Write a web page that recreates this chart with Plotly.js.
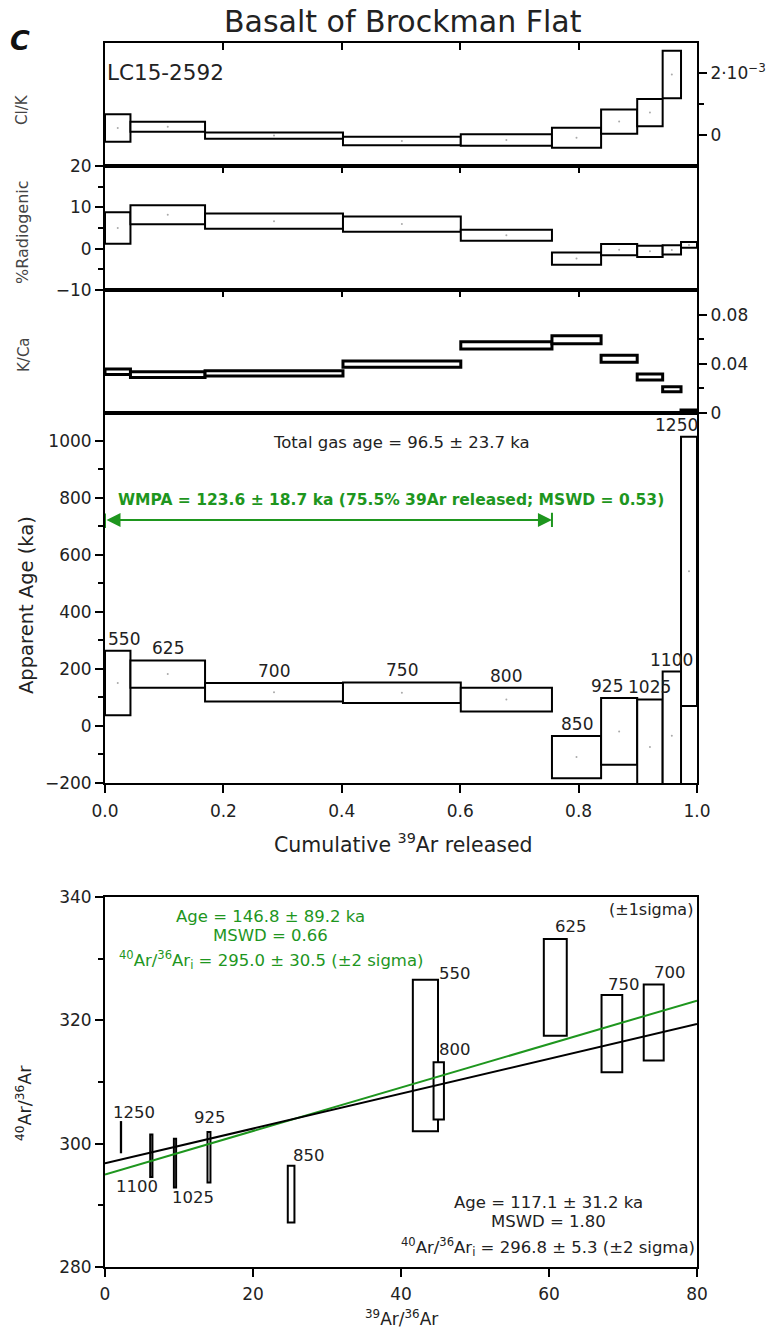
<!DOCTYPE html>
<html><head><meta charset="utf-8">
<script src="https://cdn.plot.ly/plotly-3.0.1.min.js"></script>
<style>html,body{margin:0;padding:0;background:#fff}#chart{width:770px;height:1331px}</style>
</head><body><div id="chart"></div>
<script>
// ---------------- DATA ----------------
const steps   = ['550','625','700','750','800','850','925','1025','1100','1250'];
const cumLo   = [0.000, 0.043, 0.169, 0.402, 0.601, 0.755, 0.838, 0.899, 0.942, 0.973];
const cumHi   = [0.043, 0.169, 0.402, 0.601, 0.755, 0.838, 0.899, 0.942, 0.973, 1.000];

const clkLo   = [-0.21e-3, 0.11e-3, -0.11e-3, -0.32e-3, -0.34e-3, -0.40e-3, 0.05e-3, 0.29e-3, 1.18e-3, null];
const clkHi   = [ 0.67e-3, 0.43e-3,  0.09e-3, -0.05e-3,  0.03e-3,  0.24e-3, 0.82e-3, 1.16e-3, 2.70e-3, null];

const radLo   = [1.2, 5.9, 4.8, 4.1, 1.9, -3.9, -1.6, -2.0, -1.4, 0.2];
const radHi   = [8.8, 10.5, 8.5, 7.8, 4.6, -0.9, 1.1, 0.7, 0.8, 1.6];

const kcaLo   = [0.0314, 0.0289, 0.0300, 0.0371, 0.0521, 0.0563, 0.0413, 0.0268, 0.0172, -0.0003];
const kcaHi   = [0.0358, 0.0336, 0.0344, 0.0423, 0.0579, 0.0628, 0.0470, 0.0317, 0.0213, 0.0025];

const ageLo   = [38, 134, 86, 81, 51, -183, -136, -240, -260, 70];
const ageHi   = [264, 230, 151, 153, 134, -35, 98, 93, 191, 1015];

const totalGasText = 'Total gas age = 96.5 ± 23.7 ka';
const wmpaText = 'WMPA = 123.6 ± 18.7 ka (75.5% 39Ar released; MSWD = 0.53)';
const wmpaStart = 0.0, wmpaEnd = 0.755;

// isochron (39Ar/36Ar vs 40Ar/36Ar)
const isoX    = [43.3, 60.85, 74.15, 68.5, 45.1, 25.15, 14.05, 9.46, 6.26, 2.16];
const isoXerr = [1.7, 1.55, 1.35, 1.4, 0.7, 0.45, 0.2, 0.15, 0.15, 0.02];
const isoY    = [314.3, 325.35, 319.65, 317.85, 308.55, 291.8, 297.8, 296.85, 298.05, 301.05];
const isoYerr = [12.3, 7.85, 6.15, 6.25, 4.65, 4.6, 4.1, 3.95, 3.45, 2.45];

const fitX      = [0, 80];
const blackFitY = [296.8, 319.4];
const greenFitY = [295.0, 323.2];

const greenLines = ['Age = 146.8 ± 89.2 ka', 'MSWD = 0.66', '<sup>40</sup>Ar/<sup>36</sup>Ar<sub>i</sub> = 295.0 ± 30.5 (±2 sigma)'];
const blackLines = ['Age = 117.1 ± 31.2 ka', 'MSWD = 1.80', '<sup>40</sup>Ar/<sup>36</sup>Ar<sub>i</sub> = 296.8 ± 5.3 (±2 sigma)'];

// ---------------- STYLE ----------------
const W = 770, H = 1331, L = 105, R = 697;
const FONT = 'DejaVu Sans, Liberation Sans, Arial, sans-serif';
const TXT = '#222';
const GREEN = '#1e961e';
const px2fx = p => (p - L) / (R - L);
const py2fy = p => 1 - p / H;
const yd = (top, bot) => [1 - bot / H, 1 - top / H];

function boxBars(lo, hi, xc, wd, xa, ya, lw) {
  const base = [], len = [];
  for (let i = 0; i < lo.length; i++) {
    if (lo[i] === null || hi[i] === null) { base.push(null); len.push(null); }
    else { base.push(lo[i]); len.push(hi[i] - lo[i]); }
  }
  return {type: 'bar', x: xc, width: wd, base: base, y: len, xaxis: xa, yaxis: ya,
    marker: {color: 'white', line: {color: 'black', width: lw}}, hoverinfo: 'skip', showlegend: false};
}
function dots(lo, hi, xc, xa, ya) {
  const y = lo.map((v, i) => (v === null ? null : (v + hi[i]) / 2));
  return {type: 'scatter', mode: 'markers', x: xc, y: y, xaxis: xa, yaxis: ya,
    marker: {size: 2, color: '#aaa'}, hoverinfo: 'skip', showlegend: false, cliponaxis: true};
}

const cumC = cumLo.map((v, i) => (v + cumHi[i]) / 2);
const cumW = cumLo.map((v, i) => cumHi[i] - v);

const traces = [
  boxBars(clkLo, clkHi, cumC, cumW, 'x', 'y', 2),
  dots(clkLo, clkHi, cumC, 'x', 'y'),
  boxBars(radLo, radHi, cumC, cumW, 'x2', 'y2', 2),
  dots(radLo, radHi, cumC, 'x2', 'y2'),
  boxBars(kcaLo, kcaHi, cumC, cumW, 'x3', 'y3', 3),
  boxBars(ageLo, ageHi, cumC, cumW, 'x4', 'y4', 2),
  dots(ageLo, ageHi, cumC, 'x4', 'y4'),
];
// WMPA end bars
traces.push({type: 'scatter', mode: 'lines', x: [wmpaStart, wmpaStart, null, wmpaEnd, wmpaEnd],
  y: [695, 745, null, 698, 748], xaxis: 'x4', yaxis: 'y4', line: {color: GREEN, width: 2},
  hoverinfo: 'skip', showlegend: false, cliponaxis: false});

// isochron
const isoLo = isoY.map((v, i) => v - isoYerr[i]);
const isoHi = isoY.map((v, i) => v + isoYerr[i]);
traces.push({type: 'scatter', mode: 'lines', x: fitX, y: greenFitY, xaxis: 'x5', yaxis: 'y5',
  line: {color: GREEN, width: 2}, hoverinfo: 'skip', showlegend: false});
traces.push({type: 'scatter', mode: 'lines', x: fitX, y: blackFitY, xaxis: 'x5', yaxis: 'y5',
  line: {color: 'black', width: 2}, hoverinfo: 'skip', showlegend: false});
traces.push(boxBars(isoLo, isoHi, isoX, isoXerr.map(e => 2 * e), 'x5', 'y5', 2));

// ---------------- AXES ----------------
const tickfont = {family: FONT, size: 17, color: TXT};
const base = {showline: true, linecolor: 'black', linewidth: 2, mirror: true, zeroline: false,
  showgrid: false, ticklen: 8, tickwidth: 2, tickcolor: 'black', tickfont: tickfont, type: 'linear', fixedrange: true};
const topX = (anchor) => Object.assign({}, base, {anchor: anchor, domain: [0, 1], range: [0, 1], side: 'top',
  ticks: 'inside', ticklen: 7, tickmode: 'array', tickvals: [0.2, 0.4, 0.6, 0.8], showticklabels: false});
const minorT = (o) => Object.assign({ticks: 'outside', ticklen: 5, tickwidth: 2, tickcolor: 'black'}, o);

const layout = {
  width: W, height: H, margin: {l: L, r: W - R, t: 0, b: 0}, paper_bgcolor: 'white', plot_bgcolor: 'white',
  barmode: 'overlay', showlegend: false, hovermode: false, font: {family: FONT, color: TXT},
  xaxis: topX('y'),
  yaxis: Object.assign({}, base, {anchor: 'x', domain: yd(43, 166), range: [-0.985e-3, 2.95e-3], side: 'right',
    ticks: 'outside', tickmode: 'array', tickvals: [0, 0.002], ticktext: ['0', '2·10<sup>−3</sup>'],
    minor: minorT({tickmode: 'array', tickvals: [0.001]})}),
  xaxis2: topX('y2'),
  yaxis2: Object.assign({}, base, {anchor: 'x2', domain: yd(166, 290), range: [-10, 20], side: 'left',
    ticks: 'outside', tickmode: 'linear', tick0: 0, dtick: 10,
    minor: minorT({tickmode: 'linear', tick0: 0, dtick: 5})}),
  xaxis3: topX('y3'),
  yaxis3: Object.assign({}, base, {anchor: 'x3', domain: yd(290, 413), range: [0, 0.1], side: 'right',
    ticks: 'outside', tickmode: 'array', tickvals: [0, 0.04, 0.08], ticktext: ['0', '0.04', '0.08'],
    minor: minorT({tickmode: 'array', tickvals: [0.02, 0.06]})}),
  xaxis4: Object.assign({}, base, {anchor: 'y4', domain: [0, 1], range: [0, 1], side: 'bottom', ticks: 'outside',
    tickmode: 'linear', tick0: 0, dtick: 0.2, tickformat: '.1f', ticklabelstandoff: 4}),
  yaxis4: Object.assign({}, base, {anchor: 'x4', domain: yd(413, 783), range: [-200, 1098], side: 'left',
    ticks: 'outside', tickmode: 'linear', tick0: 0, dtick: 200,
    minor: minorT({tickmode: 'linear', tick0: 0, dtick: 100})}),
  xaxis5: Object.assign({}, base, {anchor: 'y5', domain: [0, 1], range: [0, 80], side: 'bottom', ticks: 'outside',
    tickmode: 'linear', tick0: 0, dtick: 20, ticklabelstandoff: 3}),
  yaxis5: Object.assign({}, base, {anchor: 'x5', domain: yd(897, 1267), range: [280, 340], side: 'left',
    ticks: 'outside', tickmode: 'linear', tick0: 280, dtick: 20,
    minor: minorT({tickmode: 'linear', tick0: 280, dtick: 10})}),
  annotations: []
};

const A = layout.annotations;
const paperText = (text, xp, yp, size, extra) => A.push(Object.assign({xref: 'paper', yref: 'paper',
  x: px2fx(xp), y: py2fy(yp), xanchor: 'center', yanchor: 'middle', text: text, showarrow: false,
  font: {family: FONT, size: size, color: TXT}}, extra || {}));

// titles
paperText('Basalt of Brockman Flat', 403, 21, 30);
paperText('<b><i>C</i></b>', 20, 40, 27, {font: {family: FONT, size: 27, color: '#111'}});
paperText('LC15-2592', 165, 73, 21.5);
paperText('Cl/K', 22, 110, 15, {textangle: -90, font: {family: FONT, size: 15, color: '#444'}});
paperText('%Radiogenic', 22, 232, 16, {textangle: -90, font: {family: FONT, size: 16, color: '#444'}});
paperText('K/Ca', 24, 355, 15, {textangle: -90, font: {family: FONT, size: 15, color: '#444'}});
paperText('Apparent Age (ka)', 26, 605, 19.5, {textangle: -90});
paperText('Cumulative <sup>39</sup>Ar released', 403, 843, 20.5);
paperText('<sup>40</sup>Ar/<sup>36</sup>Ar', 24, 1103, 17.5, {textangle: -90});
paperText('<sup>39</sup>Ar/<sup>36</sup>Ar', 401, 1318, 17);

// age panel texts
A.push({xref: 'x4', yref: 'y4', x: 0.5, y: 996, xanchor: 'center', yanchor: 'middle', text: totalGasText, showarrow: false,
  font: {family: FONT, size: 16.5, color: TXT}});
A.push({xref: 'x4', yref: 'y4', x: 0.483, y: 793, xanchor: 'center', yanchor: 'middle', text: '<b>' + wmpaText + '</b>', showarrow: false,
  font: {family: FONT, size: 15.5, color: GREEN}});
A.push({xref: 'x4', yref: 'y4', axref: 'x4', ayref: 'y4', x: wmpaEnd, y: 723, ax: wmpaStart, ay: 723, text: '',
  showarrow: true, arrowside: 'end+start', arrowhead: 2, arrowsize: 1.4, arrowwidth: 2, arrowcolor: GREEN,
  standoff: 0, startstandoff: 0});

// step labels on age spectrum (x shift in px as a style tweak)
const ageLabelShift = {'550': 6, '925': -12, '1250': -13};
steps.forEach((s, i) => {
  A.push({xref: 'x4', yref: 'y4', x: cumC[i], y: ageHi[i], text: s, showarrow: false, xanchor: 'center', yanchor: 'middle',
    xshift: ageLabelShift[s] || 0, yshift: 12, font: {family: FONT, size: 17, color: TXT}});
});

// isochron texts
const greenY = [336.9, 333.8, 329.8], blackY = [290.4, 287.35, 283.3];
greenLines.forEach((t, i) => A.push({xref: 'x5', yref: 'y5', x: 22.4, y: greenY[i], xanchor: 'center', yanchor: 'middle',
  text: t, showarrow: false, font: {family: FONT, size: 16.5, color: GREEN}}));
blackLines.forEach((t, i) => A.push({xref: 'x5', yref: 'y5', x: 59.9, y: blackY[i], xanchor: 'center', yanchor: 'middle',
  text: t, showarrow: false, font: {family: FONT, size: 16.5, color: TXT}}));
A.push({xref: 'x5', yref: 'y5', x: 80, y: 337.9, xanchor: 'right', yanchor: 'middle', xshift: -2, text: '(±1sigma)', showarrow: false,
  font: {family: FONT, size: 16, color: TXT}});

// isochron step labels: placement style [side, dx px, dy px]
const isoLabelPlace = {'550': ['top', 30, 6], '625': ['top', 16, 12], '700': ['top', 16, 12], '750': ['top', 12, 11],
  '800': ['top', 16, 13], '850': ['top', 18, 10], '925': ['top', 1, 14], '1025': ['bot', 18, -10],
  '1100': ['bot', -14, -10], '1250': ['top', 13, 10]};
steps.forEach((s, i) => {
  const p = isoLabelPlace[s];
  A.push({xref: 'x5', yref: 'y5', x: isoX[i], y: p[0] === 'top' ? isoHi[i] : isoLo[i], text: s, showarrow: false,
    xanchor: 'center', yanchor: 'middle', xshift: p[1], yshift: p[2], font: {family: FONT, size: 16.5, color: TXT}});
});

Plotly.newPlot('chart', traces, layout, {staticPlot: true, displayModeBar: false});
</script>
</body></html>
